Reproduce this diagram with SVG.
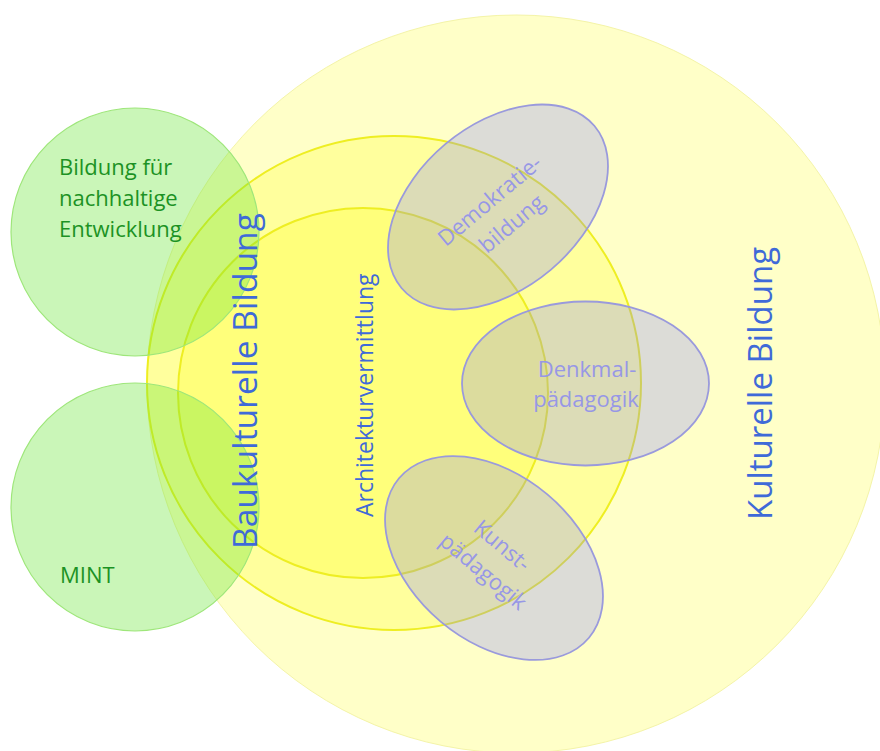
<svg xmlns="http://www.w3.org/2000/svg" width="880" height="751" viewBox="0 0 880 751">
<style>
.yel{fill:#FFFF00;fill-opacity:0.215}
.ring{stroke:#EEEE22;stroke-width:2}
.grn{fill:#66E633;fill-opacity:0.35;stroke:#9EE67A;stroke-width:1.2}
.ell{fill:#7E7EFF;fill-opacity:0.27;stroke:#9A9ADC;stroke-width:1.8}
.tg{font-family:"Open Sans","Noto Sans",sans-serif;font-size:22px;fill:#1C9224}
.tb{font-family:"Open Sans","Noto Sans",sans-serif;fill:#3F6AD8}
.tp{font-family:"Open Sans","Noto Sans",sans-serif;font-size:22px;fill:#9797E6;text-anchor:middle}
</style>
<rect width="880" height="751" fill="#FFFFFF"/>
<g id="kulturelle-bildung">
<circle class="yel" cx="516" cy="384" r="369" stroke="#F4F4A8" stroke-width="1"/>
</g>
<g id="baukulturelle-bildung">
<circle class="yel ring" cx="394" cy="383" r="247"/>
</g>
<g id="architekturvermittlung">
<circle class="yel ring" cx="363" cy="393" r="185"/>
</g>
<g id="bne">
<circle class="grn" cx="135" cy="232" r="124"/>
<text class="tg" x="59" y="175">Bildung für</text>
<text class="tg" x="59" y="206">nachhaltige</text>
<text class="tg" x="59" y="237">Entwicklung</text>
</g>
<g id="mint">
<circle class="grn" cx="135" cy="507" r="124"/>
<text class="tg" x="60" y="583">MINT</text>
</g>
<g id="demokratiebildung">
<ellipse class="ell" cx="498" cy="207" rx="126" ry="82" transform="rotate(-40 498 207)"/>
<g transform="translate(490 201) rotate(-40)">
<text class="tp" x="0" y="7">Demokratie-</text>
<text class="tp" x="2" y="39">bildung</text>
</g>
</g>
<g id="denkmalpaedagogik">
<ellipse class="ell" cx="585.5" cy="383.5" rx="123.5" ry="82"/>
<text class="tp" x="587" y="377">Denkmal-</text>
<text class="tp" x="586" y="407">pädagogik</text>
</g>
<g id="kunstpaedagogik">
<ellipse class="ell" cx="494" cy="558" rx="124" ry="83" transform="rotate(40 494 558)"/>
<g transform="translate(502 546) rotate(40)">
<text class="tp" x="0" y="7">Kunst-</text>
<text class="tp" x="2" y="39">pädagogik</text>
</g>
</g>
<g id="labels">
<text class="tb" font-size="33.6" transform="translate(257 549) rotate(-90)">Baukulturelle Bildung</text>
<text class="tb" font-size="33" transform="translate(772 520) rotate(-90)">Kulturelle Bildung</text>
<text class="tb" font-size="23" transform="translate(373 517) rotate(-90)">Architekturvermittlung</text>
</g>
<g id="connectors"/>
</svg>
